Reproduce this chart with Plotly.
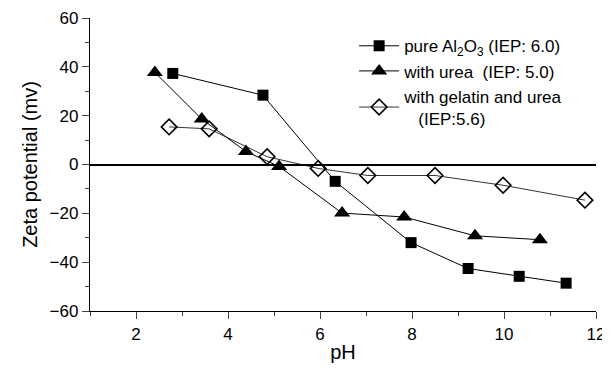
import plotly.graph_objects as go

ph_pure = [2.80, 4.76, 6.33, 7.98, 9.22, 10.33, 11.35]
zeta_pure = [37.3, 28.4, -6.9, -32.0, -42.6, -45.8, -48.6]

ph_urea = [2.41, 3.43, 4.39, 5.11, 6.48, 7.83, 9.37, 10.78]
zeta_urea = [37.7, 18.6, 5.3, -0.8, -19.9, -21.5, -29.2, -30.8]

ph_gel = [2.72, 3.59, 4.85, 5.96, 7.04, 8.50, 9.98, 11.76]
zeta_gel = [15.4, 14.6, 3.2, -1.6, -4.5, -4.5, -8.5, -14.6]

names = [
    "pure Al<sub>2</sub>O<sub>3</sub> (IEP: 6.0)",
    "with urea  (IEP: 5.0)",
    "with gelatin and urea<br>" + "\u00a0" * 3 + "(IEP:5.6)",
]

x_ticks = [2, 4, 6, 8, 10, 12]
y_ticks = [-60, -40, -20, 0, 20, 40, 60]

FONT = "Liberation Sans, Arial, sans-serif"

fig = go.Figure()
fig.add_trace(go.Scatter(
    x=ph_pure, y=zeta_pure, name=names[0], mode="lines+markers",
    line=dict(color="black", width=1),
    marker=dict(symbol="square", size=11, color="black"),
))
fig.add_trace(go.Scatter(
    x=ph_urea, y=zeta_urea, name=names[1], mode="lines+markers",
    line=dict(color="black", width=1),
    marker=dict(symbol="triangle-up", size=14, color="black"),
))
fig.add_trace(go.Scatter(
    x=ph_gel, y=zeta_gel, name=names[2], mode="lines+markers",
    line=dict(color="black", width=0.8),
    marker=dict(symbol="diamond-open", size=12, color="black",
                line=dict(width=1.6, color="black")),
))

# page body has an 8px margin, so the figure is sized to fit the window
fig.update_layout(
    width=602, height=361,
    margin=dict(l=82, r=14, t=10, b=58, autoexpand=False),
    paper_bgcolor="white", plot_bgcolor="white",
    font=dict(family=FONT, size=17, color="black"),
    showlegend=True,
    legend=dict(x=0.522, y=0.965, xanchor="left", yanchor="top",
                bgcolor="rgba(0,0,0,0)", font=dict(size=17),
                tracegroupgap=0, itemwidth=40),
    xaxis=dict(
        range=[1, 12], tickvals=x_ticks, ticks="outside", ticklen=7,
        tickwidth=1.3, showline=True, linecolor="black", linewidth=1.3,
        showgrid=False, zeroline=False, mirror=False, automargin=False,
        ticklabeloverflow="allow",
        minor=dict(dtick=1, tick0=1, ticks="outside", ticklen=4, tickwidth=1),
        title=dict(text="pH", font=dict(size=20), standoff=2),
        tickfont=dict(size=17),
    ),
    yaxis=dict(
        range=[-60, 60], tickvals=y_ticks, ticks="outside", ticklen=7,
        tickwidth=1.3, showline=True, linecolor="black", linewidth=1.3,
        showgrid=False, zeroline=True, zerolinecolor="black", zerolinewidth=1.5,
        automargin=False, ticklabeloverflow="allow",
        minor=dict(dtick=10, tick0=0, ticks="outside", ticklen=4, tickwidth=1),
        title=dict(text="Zeta potential (mv)", font=dict(size=20), standoff=6),
        tickfont=dict(size=17),
    ),
)

fig.write_html("out.html")
